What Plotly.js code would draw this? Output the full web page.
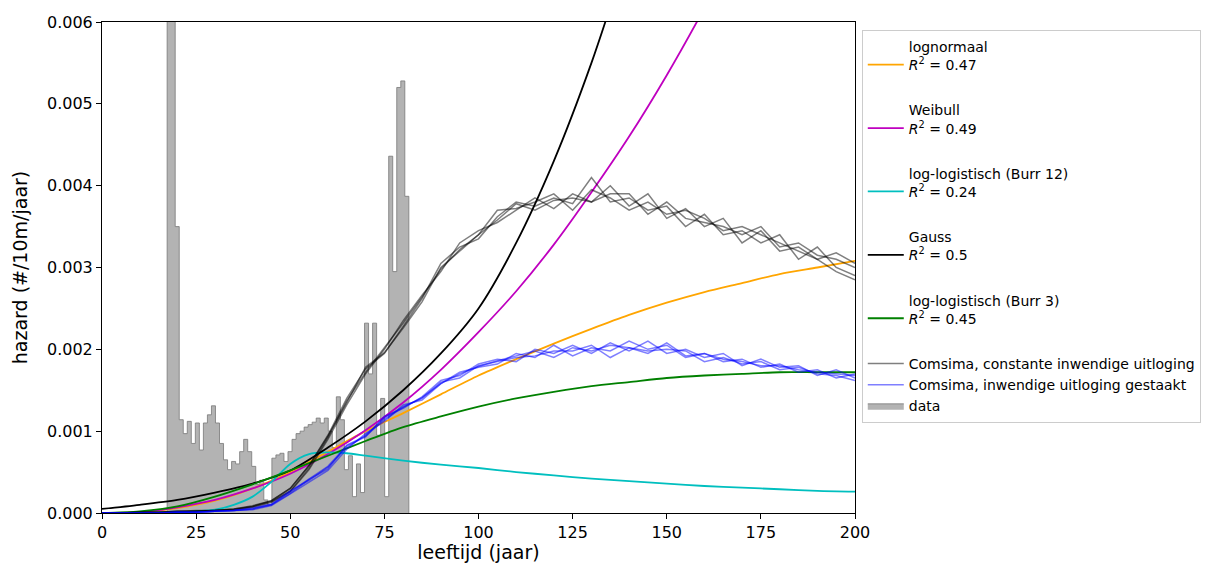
<!DOCTYPE html>
<html>
<head>
<meta charset="utf-8">
<script src="https://cdn.plot.ly/plotly-3.0.1.min.js"></script>
<style>html,body{margin:0;padding:0;background:#fff;}#chart{width:1223px;height:563px;}</style>
</head>
<body>
<div id="chart"></div>
<script>
// ---------- data ----------
// histogram of observed hazard (1 bin ≈ 1.07 year, starting at 17.3 yr)
const HIST_START = 17.3;
const HIST_WIDTH = 1.07;
const HIST_VALUES = [
  0.0075,0.0070,0.0035,0.00114,0.00097,0.00112,0.00085,0.0011,0.00077,0.0011,
  0.0012,0.00131,0.0011,0.00085,0.00065,0.00053,0.00063,0.0006,0.00075,0.0009,
  0.00075,0.00057,0.00035,0.0004,0.00016,0.0001,0.00067,0.00071,0.00073,0.00063,
  0.00075,0.0009,0.00097,0.001,0.00105,0.00108,0.00111,0.00116,0.0011,0.00116,
  0.001,0.0008,0.00142,0.00114,0.00053,0.0007,0.0002,0.0006,0.00025,0.00232,
  0.0017,0.00232,0.00095,0.0014,0.0002,0.00436,0.00295,0.0052,0.00528,0.00387
];

// fitted hazard curves
const LOGN_AGE = [0,10,20,30,40,50,60,70,80,90,100,110,120,130,140,150,160,170,180,190,200];
const LOGN_VAL = [0,0.00001,0.00006,0.00015,0.0003,0.0005,0.00075,0.001,0.00122,0.00145,0.00168,0.00188,0.00207,0.00225,0.00242,0.00257,0.0027,0.00281,0.00292,0.003,0.00308];

const WEIB_AGE = [0,10,20,30,40,50,60,70,80,90,100,110,120,130,140,150,160,170];
const WEIB_VAL = [0,0.00001,0.00007,0.00016,0.0003,0.00048,0.00072,0.00101,0.00135,0.00175,0.00221,0.00271,0.00328,0.00392,0.0046,0.00535,0.00617,0.00705];

const BURR12_AGE = [0,10,20,25,30,35,40,45,50,55,60,65,70,80,90,100,110,120,130,140,150,160,170,180,190,200];
const BURR12_VAL = [0,0,0.00001,0.00002,0.00004,0.0001,0.0002,0.00038,0.0006,0.00072,0.00074,0.00073,0.0007,0.00064,0.00059,0.00055,0.0005,0.00046,0.00042,0.00039,0.00036,0.00033,0.00031,0.00029,0.00027,0.00026];

const GAUSS_AGE = [0,10,20,30,40,50,60,70,80,90,100,110,120,130,140];
const GAUSS_VAL = [0.00005,0.0001,0.00016,0.00025,0.00036,0.00052,0.0008,0.00112,0.0015,0.00195,0.0025,0.0033,0.0043,0.0055,0.0069];

const BURR3_AGE = [0,10,20,30,40,50,60,70,80,90,100,110,120,130,140,150,160,170,180,190,200];
const BURR3_VAL = [0,0.00002,0.00008,0.0002,0.00035,0.00052,0.0007,0.00088,0.00105,0.00118,0.0013,0.0014,0.00148,0.00155,0.0016,0.00165,0.00168,0.0017,0.00172,0.00172,0.00172];

// Comsima simulations (ages 0..200 every 5 yr)
const SIM_AGE = [0,5,10,15,20,25,30,35,40,45,50,55,60,65,70,75,80,85,90,95,100,105,110,115,120,125,130,135,140,145,150,155,160,165,170,175,180,185,190,195,200];
const CONST_1 = [0,0,0.00001,0.00001,0.00002,0.00002,0.00003,0.00005,0.00008,0.00015,0.0003,0.00058,0.00095,0.0014,0.00176,0.00195,0.00228,0.00262,0.00305,0.00325,0.00335,0.00362,0.0038,0.00375,0.00385,0.00378,0.0041,0.0038,0.00385,0.0037,0.00375,0.0035,0.00365,0.0034,0.00345,0.0033,0.0034,0.0031,0.00325,0.003,0.0029];
const CONST_2 = [0,0,0.00001,0.00001,0.00001,0.00002,0.00003,0.00004,0.00007,0.00013,0.00026,0.00053,0.0009,0.00132,0.0017,0.002,0.00235,0.00266,0.00295,0.0033,0.00345,0.00355,0.0037,0.00385,0.00372,0.0039,0.0038,0.004,0.00375,0.0039,0.0036,0.00372,0.0035,0.0036,0.0033,0.00345,0.0032,0.00325,0.0031,0.00318,0.00305];
const CONST_3 = [0,0,0,0.00001,0.00002,0.00003,0.00003,0.00005,0.00009,0.00015,0.0003,0.00058,0.00094,0.00135,0.00178,0.00196,0.00226,0.00258,0.003,0.0032,0.0034,0.0037,0.00372,0.0038,0.0039,0.0037,0.00395,0.00385,0.0037,0.0038,0.00365,0.0037,0.0036,0.00345,0.0035,0.0034,0.0033,0.0032,0.0031,0.00295,0.00285];
const CONST_4 = [0,0,0.00001,0.00001,0.00002,0.00002,0.00003,0.00004,0.00008,0.00014,0.00027,0.00055,0.00092,0.00137,0.00172,0.00202,0.00232,0.00264,0.00298,0.00322,0.0034,0.00358,0.00378,0.0037,0.00382,0.00385,0.0038,0.0039,0.0039,0.00365,0.0038,0.0036,0.00355,0.0035,0.0034,0.0035,0.00325,0.0033,0.00315,0.0031,0.003];
const STOP_1 = [0,0,0,0,0.00001,0.00001,0.00002,0.00003,0.00005,0.0001,0.00026,0.00042,0.00057,0.00082,0.00093,0.00118,0.00128,0.00142,0.00162,0.00168,0.00182,0.00188,0.00185,0.002,0.00195,0.00205,0.00195,0.00208,0.00198,0.0021,0.00195,0.002,0.0019,0.00195,0.0018,0.00188,0.00178,0.0018,0.00168,0.00175,0.00165];
const STOP_2 = [0,0,0,0,0.00001,0.00001,0.00002,0.00003,0.00004,0.00009,0.00023,0.00038,0.00052,0.00078,0.00097,0.00112,0.00132,0.00138,0.00158,0.00172,0.00178,0.00182,0.00195,0.0019,0.00205,0.00192,0.00202,0.00198,0.0021,0.002,0.00205,0.0019,0.00195,0.00185,0.00188,0.00178,0.00182,0.00172,0.00175,0.00165,0.0017];
const STOP_3 = [0,0,0,0,0.00001,0.00001,0.00002,0.00003,0.00006,0.00011,0.00027,0.0004,0.00056,0.0008,0.00095,0.00116,0.0013,0.0014,0.0016,0.00165,0.0018,0.00185,0.0019,0.00192,0.00198,0.00198,0.00205,0.0019,0.00202,0.00198,0.002,0.00198,0.00185,0.0019,0.00182,0.00185,0.00175,0.00178,0.0017,0.00168,0.00162];
const STOP_4 = [0,0,0,0,0.00001,0.00001,0.00002,0.00003,0.00005,0.0001,0.00024,0.00041,0.00054,0.00083,0.00094,0.00114,0.00129,0.00141,0.00158,0.0017,0.00179,0.00186,0.00192,0.00198,0.0019,0.00202,0.00198,0.00205,0.00202,0.00195,0.00208,0.00192,0.00195,0.00188,0.00185,0.0018,0.0018,0.00175,0.00172,0.0017,0.00168];

const LABELS = {
  logn: 'lognormaal<br><i>R</i><sup>2</sup> = 0.47',
  weib: 'Weibull<br><i>R</i><sup>2</sup> = 0.49',
  burr12: 'log-logistisch (Burr 12)<br><i>R</i><sup>2</sup> = 0.24',
  gauss: 'Gauss<br><i>R</i><sup>2</sup> = 0.5',
  burr3: 'log-logistisch (Burr 3)<br><i>R</i><sup>2</sup> = 0.45',
  constant: 'Comsima, constante inwendige uitloging',
  stopped: 'Comsima, inwendige uitloging gestaakt',
  data: 'data'
};

// ---------- build traces ----------
const histX = [HIST_START];
const histY = [0];
for (let i = 0; i < HIST_VALUES.length; i++) {
  histX.push(HIST_START + i * HIST_WIDTH);
  histY.push(HIST_VALUES[i]);
}
const histEnd = HIST_START + HIST_VALUES.length * HIST_WIDTH;
histX.push(histEnd); histY.push(HIST_VALUES[HIST_VALUES.length - 1]);
histX.push(histEnd); histY.push(0);

const traces = [];
traces.push({
  x: histX, y: histY, type: 'scatter', mode: 'lines',
  line: {shape: 'hv', color: 'rgba(120,120,120,0.8)', width: 1},
  fill: 'tozeroy', fillcolor: 'rgba(128,128,128,0.6)',
  name: LABELS.data, legendgroup: 'g6', legendrank: 1003, hoverinfo: 'skip'
});

function fit(x, y, color, name, group, rank) {
  return {x: x, y: y, type: 'scatter', mode: 'lines',
    line: {color: color, width: 1.8, shape: 'spline', smoothing: 0.8},
    name: name, legendgroup: group, legendrank: rank};
}
traces.push(fit(LOGN_AGE, LOGN_VAL, '#FFA500', LABELS.logn, 'g1', 1));
traces.push(fit(WEIB_AGE, WEIB_VAL, '#BF00BF', LABELS.weib, 'g2', 2));
traces.push(fit(BURR12_AGE, BURR12_VAL, '#00BFBF', LABELS.burr12, 'g3', 3));
traces.push(fit(GAUSS_AGE, GAUSS_VAL, '#000000', LABELS.gauss, 'g4', 4));
traces.push(fit(BURR3_AGE, BURR3_VAL, '#008000', LABELS.burr3, 'g5', 5));

[CONST_1, CONST_2, CONST_3, CONST_4].forEach(function (ys, i) {
  traces.push({x: SIM_AGE, y: ys, type: 'scatter', mode: 'lines',
    line: {color: 'rgba(0,0,0,0.5)', width: 1.5},
    name: LABELS.constant, legendgroup: 'g6', legendrank: 1001, showlegend: i === 0});
});
[STOP_1, STOP_2, STOP_3, STOP_4].forEach(function (ys, i) {
  traces.push({x: SIM_AGE, y: ys, type: 'scatter', mode: 'lines',
    line: {color: 'rgba(0,0,255,0.5)', width: 1.5},
    name: LABELS.stopped, legendgroup: 'g6', legendrank: 1002, showlegend: i === 0});
});

const FONT = 'DejaVu Sans, Arial, sans-serif';
const layout = {
  width: 1223, height: 563,
  margin: {l: 102, r: 368, t: 22, b: 50, pad: 0},
  paper_bgcolor: '#fff', plot_bgcolor: '#fff',
  font: {family: FONT, color: '#000', size: 14},
  showlegend: true,
  xaxis: {
    range: [0, 200], tickvals: [0, 25, 50, 75, 100, 125, 150, 175, 200],
    ticks: 'outside', ticklen: 5, tickcolor: '#000', tickfont: {size: 16, family: FONT},
    showline: true, mirror: true, linecolor: '#000', linewidth: 1,
    showgrid: false, zeroline: false,
    title: {text: 'leeftijd (jaar)', font: {size: 19, family: FONT}, standoff: 4}
  },
  yaxis: {
    range: [0, 0.006], tickvals: [0, 0.001, 0.002, 0.003, 0.004, 0.005, 0.006],
    tickformat: '.3f',
    ticks: 'outside', ticklen: 5, tickcolor: '#000', tickfont: {size: 16, family: FONT},
    showline: true, mirror: true, linecolor: '#000', linewidth: 1,
    showgrid: false, zeroline: false,
    title: {text: 'hazard (#/10m/jaar)', font: {size: 19, family: FONT}, standoff: 14}
  },
  legend: {
    x: 1.009, y: 0.984, xanchor: 'left', yanchor: 'top',
    bordercolor: '#cccccc', borderwidth: 1, bgcolor: '#fff',
    font: {size: 14, family: FONT, color: '#000'},
    traceorder: 'grouped', tracegroupgap: 24, valign: 'bottom', itemwidth: 36
  }
};

Plotly.newPlot('chart', traces, layout, {staticPlot: true, displayModeBar: false});
</script>
</body>
</html>
